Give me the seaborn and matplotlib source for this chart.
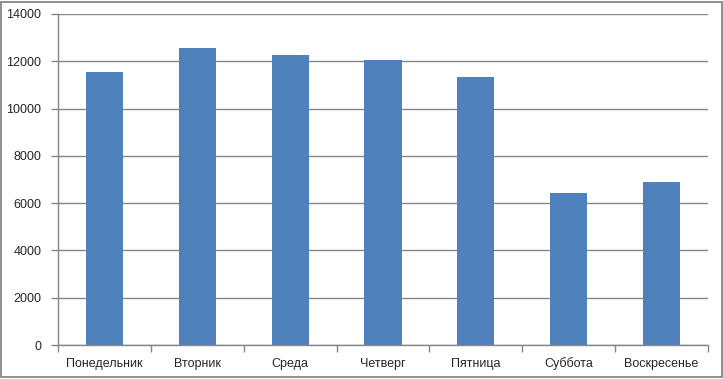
import matplotlib
matplotlib.use("Agg")
import matplotlib.pyplot as plt
import seaborn as sns
import pandas as pd
from matplotlib.patches import Rectangle
from matplotlib.ticker import FixedLocator

days = ["Понедельник", "Вторник", "Среда", "Четверг", "Пятница", "Суббота", "Воскресенье"]
values = [11560, 12560, 12270, 12055, 11340, 6430, 6895]
y_ticks = [0, 2000, 4000, 6000, 8000, 10000, 12000, 14000]

sns.set_style("white")
plt.rcParams['font.family'] = ['Liberation Sans', 'DejaVu Sans']

W, H = 723, 379
fig = plt.figure(figsize=(W / 100, H / 100), dpi=100)
ax = fig.add_axes([58 / W, (H - 345) / H, (708 - 58) / W, (345 - 14) / H])

df = pd.DataFrame({"day": days, "value": values})
sns.barplot(data=df, x="day", y="value", color="#4F81BD", saturation=1, width=0.4, ax=ax,
            linewidth=0, edgecolor="none")

grid_c = "#868686"
ax.set_ylim(0, 14000)
ax.set_xlim(-0.5, len(days) - 0.5)
ax.set_yticks(y_ticks)
ax.set_yticklabels([str(v) for v in y_ticks])
ax.yaxis.grid(True, color=grid_c, linewidth=1)
ax.set_axisbelow(True)
ax.set_xlabel("")
ax.set_ylabel("")

for s in ["top", "right"]:
    ax.spines[s].set_visible(False)
for s in ["left", "bottom"]:
    ax.spines[s].set_color(grid_c)
    ax.spines[s].set_linewidth(1)

ax.tick_params(axis="y", which="major", direction="out", length=5, width=1, color=grid_c,
               labelsize=9, pad=7, left=True)
ax.tick_params(axis="x", which="major", length=0, labelsize=9, pad=9)
ax.xaxis.set_minor_locator(FixedLocator([i - 0.5 for i in range(len(days) + 1)]))
ax.tick_params(axis="x", which="minor", direction="out", length=5, width=1, color=grid_c, bottom=True)

fig.patches.append(Rectangle((0.5 / W, 2.5 / H), (W - 2) / W, (H - 4) / H, transform=fig.transFigure,
                             fill=False, edgecolor="#868686", linewidth=1.3))

fig.savefig("out.png", dpi=100)
